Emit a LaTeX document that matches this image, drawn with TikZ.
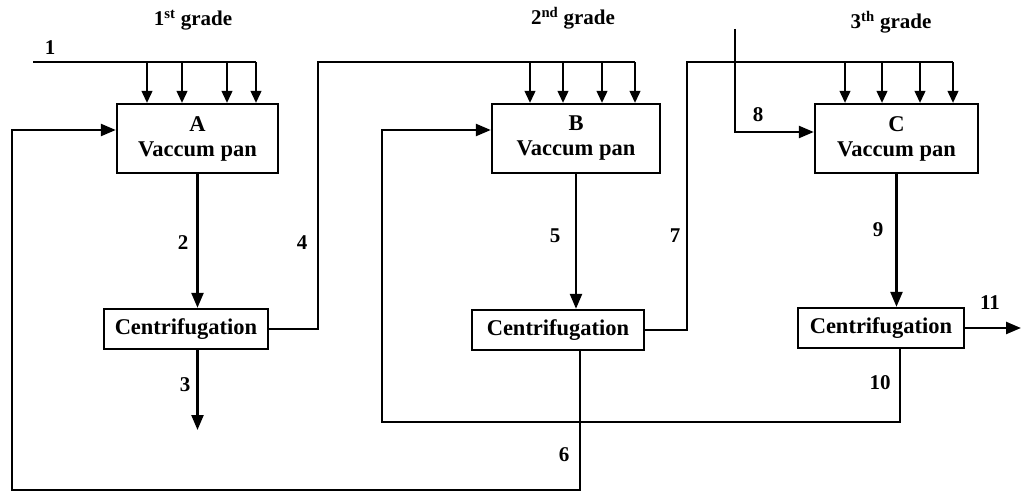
\documentclass[tikz,border=0pt]{standalone}
\usepackage{fontspec}
\setmainfont{Liberation Serif}
\usetikzlibrary{arrows.meta,calc}
\begin{document}
\begin{tikzpicture}[x=1pt,y=-1pt,
 box/.style={draw,line width=2.4pt,inner sep=0pt,align=center,font=\fontsize{22.5}{25}\selectfont\bfseries},
 flow/.style={line width=2.4pt,-{Triangle[length=15pt,width=12pt]}},
 pipe/.style={line width=2.4pt},
 drop/.style={line width=1.2pt,-{Triangle[length=12pt,width=11pt]}},
 lbl/.style={font=\fontsize{21}{22}\selectfont\bfseries,inner sep=0pt},
]
\useasboundingbox (0,0) rectangle (1023,494);
% boxes
\node[box,minimum width=161pt,minimum height=69pt] (A) at (197.5,138.5) {A\\Vaccum pan};
\node[box,minimum width=168pt,minimum height=69pt] (B) at (576,138.5) {B\\Vaccum pan};
\node[box,minimum width=163pt,minimum height=69pt] (C) at (896.5,138.5) {C\\Vaccum pan};
\node[box,minimum width=164pt,minimum height=40pt] (cA) at (186,329) {Centrifugation};
\node[box,minimum width=172pt,minimum height=40pt] (cB) at (558,330) {Centrifugation};
\node[box,minimum width=166pt,minimum height=40pt] (cC) at (881,328) {Centrifugation};
% free ends
\coordinate (in1) at (33,62);
\coordinate (in8) at (735,29);
\coordinate (out3) at (197.5,430);
\coordinate (out11) at (1021,328);
% feed lines
\draw[pipe] (in1) -- (256,62);
\foreach \x in {147,182,227,256} \draw[drop] (\x,62) -- (\x,0 |- A.north);
\draw[pipe] (cA.east) -| (318,62) -- (635,62);
\foreach \x in {530,563,602,635} \draw[drop] (\x,62) -- (\x,0 |- B.north);
\draw[pipe] (cB.east) -| (687,62) -- (953,62);
\foreach \x in {845,882,920,953} \draw[drop] (\x,62) -- (\x,0 |- C.north);
\draw[flow] (in8) |- (C.west |- 0,132);
% main flow
\draw[flow] (A.south) -- (A.south |- cA.north);
\draw[flow] (B.south) -- (B.south |- cB.north);
\draw[flow] (C.south) -- (C.south |- cC.north);
\draw[flow] (out3 |- cA.south) -- (out3);
\draw[flow] (cC.east) -- (out11);
% recycles
\draw[flow] (580,0 |- cB.south) -- (580,490) -- (12,490) -- (12,130) -- (A.west |- 0,130);
\draw[flow] (900,0 |- cC.south) -- (900,422) -- (382,422) -- (382,130) -- (B.west |- 0,130);
% labels
\node[lbl] (l1) at (50,48) {1};
\node[lbl] (l2) at (183,243) {2};
\node[lbl] (l3) at (185,385) {3};
\node[lbl] (l4) at (302,243) {4};
\node[lbl] (l5) at (555,236) {5};
\node[lbl] (l6) at (564,455) {6};
\node[lbl] (l7) at (675,236) {7};
\node[lbl] (l8) at (758,115) {8};
\node[lbl] (l9) at (878,230) {9};
\node[lbl] (l10) at (880,383) {10};
\node[lbl] (l11) at (990,303) {11};
\node[lbl] (g1) at (193,20) {1\textsuperscript{st} grade};
\node[lbl] (g2) at (573,18) {2\textsuperscript{nd} grade};
\node[lbl] (g3) at (891,22) {3\textsuperscript{th} grade};
\end{tikzpicture}
\end{document}
